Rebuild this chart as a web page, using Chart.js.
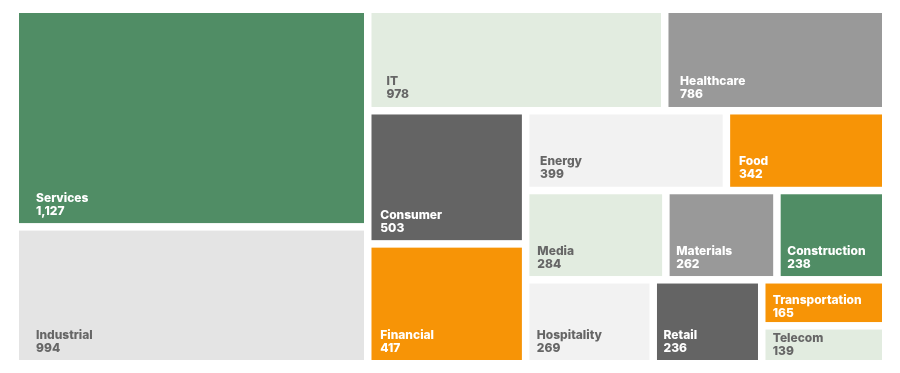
<!DOCTYPE html>
<html>
<head>
<meta charset="utf-8">
<script src="https://cdn.jsdelivr.net/npm/chart.js@4"></script>
<style>
  html, body { margin: 0; padding: 0; background: #fff; }
  #wrap { width: 900px; height: 373px; }
</style>
</head>
<body>
<div id="wrap"><canvas id="grafico" width="900" height="373"></canvas></div>
<script>
// dados do treemap
const categorias = ["Services", "Industrial", "IT", "Healthcare", "Consumer", "Financial", "Energy", "Food",
  "Media", "Materials", "Construction", "Hospitality", "Retail", "Transportation", "Telecom"];
const valores = [1127, 994, 978, 786, 503, 417, 399, 342, 284, 262, 238, 269, 236, 165, 139];
// area de cada bloco, estimada pela imagem (nao segue os valores)
const tamanhos = [766, 482, 301, 224, 210, 189, 160, 127, 125, 99, 97, 107, 91, 57, 47];

const VERDE = "#508d65", VERDE_CLARO = "#e2ece0", CINZA_CLARO = "#e4e4e4", CINZA_BRANCO = "#f2f2f2",
  CINZA = "#999999", CINZA_ESCURO = "#646464", LARANJA = "#f79406";
const cores = [VERDE, CINZA_CLARO, VERDE_CLARO, CINZA, CINZA_ESCURO, LARANJA, CINZA_BRANCO, LARANJA,
  VERDE_CLARO, CINZA, VERDE, CINZA_BRANCO, CINZA_ESCURO, LARANJA, VERDE_CLARO];
const escuras = [VERDE, CINZA, CINZA_ESCURO, LARANJA];

// estrutura do layout: "lin" = lado a lado, "col" = empilhado
const arvore = { dir: "lin", filhos: [
  { dir: "col", filhos: [0, 1] },
  { dir: "col", filhos: [
    { dir: "lin", filhos: [2, 3] },
    { dir: "lin", filhos: [
      { dir: "col", filhos: [4, 5] },
      { dir: "col", filhos: [
        { dir: "lin", filhos: [6, 7] },
        { dir: "lin", filhos: [8, 9, 10] },
        { dir: "lin", filhos: [11, 12, { dir: "col", filhos: [13, 14] }] }
      ] }
    ] }
  ] }
] };

function soma(no) {
  return typeof no === "number" ? tamanhos[no] : no.filhos.reduce((s, f) => s + soma(f), 0);
}

function posicionar(no, x0, x1, y0, y1, saida) {
  if (typeof no === "number") { saida.push({ i: no, x0, x1, y0, y1 }); return; }
  const total = soma(no);
  let pos = no.dir === "lin" ? x0 : y0;
  no.filhos.forEach(f => {
    const frac = soma(f) / total;
    if (no.dir === "lin") {
      const w = (x1 - x0) * frac;
      posicionar(f, pos, pos + w, y0, y1, saida);
      pos += w;
    } else {
      const h = (y1 - y0) * frac;
      posicionar(f, x0, x1, pos, pos + h, saida);
      pos += h;
    }
  });
}

const GAP = 3.75;

const pluginTreemap = {
  id: "treemap",
  afterDatasetsDraw(chart) {
    const ctx = chart.ctx;
    const sx = chart.scales.x, sy = chart.scales.y;
    const blocos = [];
    posicionar(arvore, 0, 1, 0, 1, blocos);
    ctx.save();
    blocos.forEach(b => {
      const l = sx.getPixelForValue(b.x0) + GAP;
      const r = sx.getPixelForValue(b.x1) - GAP;
      const t = sy.getPixelForValue(b.y0) + GAP;
      const btm = sy.getPixelForValue(b.y1) - GAP;
      const w = r - l, h = btm - t;
      ctx.fillStyle = cores[b.i];
      ctx.fillRect(l, t, w, h);

      const padX = Math.max(6, Math.min(17, 0.045 * w + 2));
      const padY = Math.min(8.5, 1.5 + h * 0.1);
      ctx.fillStyle = escuras.includes(cores[b.i]) ? "#ffffff" : "#666666";
      ctx.font = "800 12px Inter, Roboto, sans-serif";
      ctx.textBaseline = "alphabetic";
      ctx.textAlign = "left";
      ctx.fillText(categorias[b.i], l + padX, btm - padY - 13);
      ctx.fillText(valores[b.i].toLocaleString("en-US"), l + padX, btm - padY);
    });
    ctx.restore();
  }
};

new Chart(document.getElementById("grafico"), {
  type: "scatter",
  data: { datasets: [{ data: [] }] },
  options: {
    responsive: false,
    animation: false,
    layout: { padding: { left: 15.25, right: 14.25, top: 9.25, bottom: 9.25 } },
    plugins: { legend: { display: false }, tooltip: { enabled: false } },
    scales: {
      x: { type: "linear", min: 0, max: 1, display: false },
      y: { type: "linear", min: 0, max: 1, reverse: true, display: false }
    }
  },
  plugins: [pluginTreemap]
});
</script>
</body>
</html>
